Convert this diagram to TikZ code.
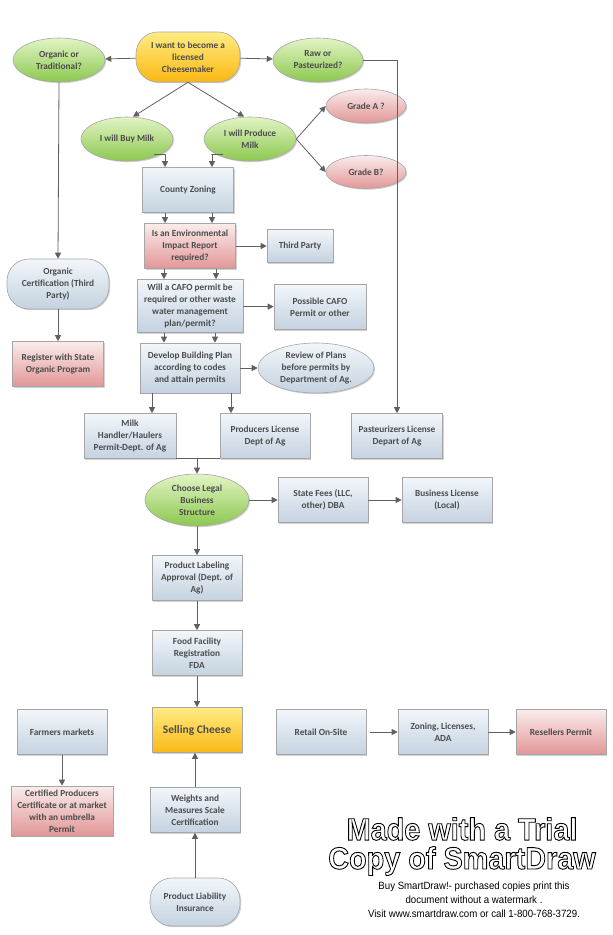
\documentclass[tikz,border=0pt]{standalone}
\usepackage{fontspec}
\setmainfont{Carlito}
\newfontfamily\wmfont{Liberation Sans}
\usetikzlibrary{shapes.geometric,shadows,arrows.meta}
\definecolor{btop}{RGB}{242,246,250}
\definecolor{bbot}{RGB}{196,210,224}
\definecolor{gtop}{RGB}{226,244,196}
\definecolor{gbot}{RGB}{140,200,80}
\definecolor{ptop}{RGB}{250,236,236}
\definecolor{pbot}{RGB}{226,150,150}
\definecolor{ytop}{RGB}{255,236,130}
\definecolor{ybot}{RGB}{250,184,20}
\begin{document}
\begin{tikzpicture}[x=1pt,y=-1pt,
  base/.style={draw=gray!70,line width=0.6pt,align=center,font=\bfseries\fontsize{9.3}{12}\selectfont,text=black!70,
    drop shadow={shadow xshift=1.2pt,shadow yshift=-1.2pt,opacity=0.35},inner sep=1pt},
  blu/.style={top color=btop,bottom color=bbot},
  grn/.style={top color=gtop,bottom color=gbot},
  pnk/.style={top color=ptop,bottom color=pbot},
  ylw/.style={top color=ytop,bottom color=ybot},
  box/.style={base,blu,rectangle,minimum width=#1,minimum height=45},
  box/.default=91,
  ell/.style={base,ellipse,minimum width=#1,minimum height=44,inner sep=0pt},
  stad/.style={base,rounded corners=22,minimum height=50,minimum width=#1},
  ar/.style={draw=gray!75!black,line width=0.8pt,-{Triangle[length=6pt,width=6pt]}},
  ln/.style={draw=gray!75!black,line width=0.8pt}]
\useasboundingbox (0,0) rectangle (613,935);
\fill[white] (0,0) rectangle (613,935);

\node[stad=104,ylw] (start) at (188,57) {I want to become a\\licensed\\Cheesemaker};
\node[ell=92,grn] (org) at (59,60) {Organic or\\Traditional?};
\node[ell=90,grn] (raw) at (318,60) {Raw or\\Pasteurized?};
\node[ell=80,pnk,minimum height=34] (ga) at (366,106) {Grade A ?};
\node[ell=80,pnk,minimum height=33] (gb) at (366,172) {Grade B?};
\node[ell=92,grn] (buy) at (127,139) {I will Buy Milk};
\node[ell=92,grn] (prod) at (250,139) {I will Produce\\Milk};
\node[box] (cz) at (188,190) {County Zoning};
\node[box,pnk] (eir) at (190,246) {Is an Environmental\\Impact Report\\required?};
\node[box=66,minimum height=33] (tp) at (300,246) {Third Party};
\node[box=106,minimum height=53] (cafo) at (190,306) {Will a CAFO permit be\\required or other waste\\water management\\plan/permit?};
\node[box=92] (pc) at (320,307) {Possible CAFO\\Permit or other};
\node[box=100,minimum height=50] (dev) at (190,368) {Develop Building Plan\\according to codes\\and attain permits};
\node[ell=116,blu,minimum height=50] (rev) at (316,368) {Review of Plans\\before permits by\\Department of Ag.};
\node[stad=102,blu] (oc) at (58,284) {Organic\\Certification (Third\\Party)};
\node[box,pnk] (reg) at (58,364) {Register with State\\Organic Program};
\node[box=92] (mh) at (130,436) {Milk\\Handler/Haulers\\Permit-Dept. of Ag};
\node[box=90] (pl) at (265,436) {Producers License\\Dept of Ag};
\node[box] (pas) at (397,436) {Pasteurizers License\\Depart of Ag};
\node[ell=104,grn,minimum height=52] (cl) at (197,500) {Choose Legal\\Business\\Structure};
\node[box=90] (sf) at (323,500) {State Fees (LLC,\\other) DBA};
\node[box=90] (bl) at (447,500) {Business License\\(Local)};
\node[box=90] (lab) at (197,578) {Product Labeling\\Approval (Dept. of\\Ag)};
\node[box=90] (ff) at (197,653) {Food Facility\\Registration\\FDA};
\node[box=90,ylw,font=\bfseries\fontsize{11.5}{13}\selectfont] (sc) at (197,730) {Selling Cheese};
\node[box=90] (fm) at (62,732) {Farmers markets};
\node[box=102,pnk,minimum height=50] (cp) at (62,811) {Certified Producers\\Certificate or at market\\with an umbrella\\Permit};
\node[box=90] (rt) at (321,732) {Retail On-Site};
\node[box=90] (zl) at (443,732) {Zoning, Licenses,\\ADA};
\node[box=90,pnk] (rp) at (561,732) {Resellers Permit};
\node[box=90] (wm) at (195,810) {Weights and\\Measures Scale\\Certification};
\node[stad=90,blu,minimum height=48] (pli) at (195,902) {Product Liability\\Insurance};

% connectors
\draw[ar] (start) -- (org);
\draw[ar] (start) -- (raw);
\draw[ar] (start.south) -- ([xshift=6]buy.north);
\draw[ar] (start.south) -- ([xshift=-6]prod.north);
\draw[ar] (prod.east) -- (ga.west);
\draw[ar] (prod.east) -- (gb.west);
\draw[ar] (raw.east) -| (pas.north);
\draw[ar] (org.south) -- (oc.north);
\draw[ar] (oc.south) -- (reg.north);
\draw[ar] (buy.south east) ++(-6,0) -- ++(12,0) -| ([xshift=-23]cz.north);
\draw[ar] (prod.south west) ++(6,0) -- ++(-12,0) -| ([xshift=24]cz.north);
\draw[ar] ([xshift=-23]cz.south) -- ([xshift=-25]eir.north);
\draw[ar] ([xshift=24]cz.south) -- ([xshift=22]eir.north);
\draw[ar] ([xshift=-26]eir.south) -- ([xshift=-26]cafo.north);
\draw[ar] ([xshift=26]eir.south) -- ([xshift=26]cafo.north);
\draw[ar] ([xshift=-26]cafo.south) -- ([xshift=-26]dev.north);
\draw[ar] ([xshift=25]cafo.south) -- ([xshift=25]dev.north);
\draw[ar] (eir) -- (tp);
\draw[ar] (cafo) -- (pc);
\draw[ar] (dev) -- (rev);
\draw[ar] ([xshift=-38]dev.south) -- ([xshift=22]mh.north);
\draw[ar] ([xshift=41]dev.south) -- ([xshift=-34]pl.north);
\draw[ln] (mh.south east) -- (pl.south west);
\coordinate (jn) at (197,458);
\draw[ar] (jn) -- (cl.north);
\draw[ar] (cl) -- (sf);
\draw[ar] (sf) -- (bl);
\draw[ar] (cl) -- (lab);
\draw[ar] (lab) -- (ff);
\draw[ar] (ff) -- (sc);
\draw[ar] (wm) -- (sc.south -| wm);
\draw[ar] (pli) -- (wm);
\draw[ar] (fm) -- (cp);
\draw[ar] ([xshift=4]rt.east) -- (zl);
\draw[ar] (zl) -- (rp);

% watermark
\node[font=\wmfont\bfseries\fontsize{31}{31}\selectfont,inner sep=0] (wm1) at (462,829)
  {\special{pdf:literal 1 Tr 0.9 w}\scalebox{0.93}[1]{Made with a Trial}\special{pdf:literal 0 Tr}};
\node[font=\wmfont\bfseries\fontsize{31}{31}\selectfont,inner sep=0] (wm2) at (462,861)
  {\special{pdf:literal 1 Tr 0.9 w}\scalebox{0.93}[1]{Copy of SmartDraw}\special{pdf:literal 0 Tr}};
\node[font=\wmfont\fontsize{10.5}{14}\selectfont,align=center,inner sep=0] (wm3) at (474,900)
  {\scalebox{0.92}[1]{Buy SmartDraw!- purchased copies print this}\\\scalebox{0.92}[1]{document without a watermark .}\\\scalebox{0.92}[1]{Visit www.smartdraw.com or call 1-800-768-3729.}};
\end{tikzpicture}
\end{document}
